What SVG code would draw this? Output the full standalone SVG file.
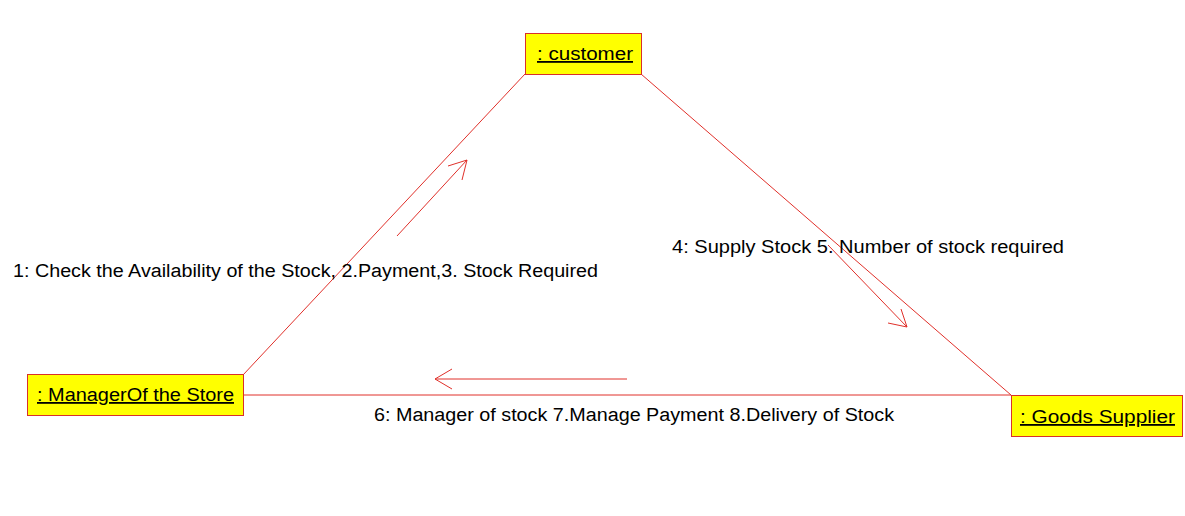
<svg xmlns="http://www.w3.org/2000/svg" width="1185" height="516" viewBox="0 0 1185 516">
<style>
.box{fill:#FFFF00;stroke:#D8302A;stroke-width:1}
.nt{font-family:"Liberation Sans",Arial,sans-serif;font-size:18px;fill:#000;text-decoration:underline}
.lbl{font-family:"Liberation Sans",Arial,sans-serif;font-size:18px;fill:#000}
.ln{stroke:#E0302A;stroke-width:1;fill:none}
</style>
<rect width="1185" height="516" fill="#fff"/>
<g id="connectors">
<line class="ln" x1="525" y1="74" x2="243" y2="375"/>
<line class="ln" x1="641" y1="74" x2="1011" y2="395"/>
<line class="ln" x1="243" y1="395" x2="1011" y2="395"/>
<path class="ln" d="M397,236 L467,160 M448,166 L467,160 L462,180"/>
<path class="ln" d="M828,245 L907,327 M888,323 L907,327 L901,309"/>
<path class="ln" d="M627,379 L435,379 M452,369 L435,379 L452,389"/>
<text class="lbl" x="13" y="277" textLength="585" lengthAdjust="spacingAndGlyphs">1: Check the Availability of the Stock, 2.Payment,3. Stock Required</text>
<text class="lbl" x="672" y="253" textLength="392" lengthAdjust="spacingAndGlyphs">4: Supply Stock 5. Number of stock required</text>
<text class="lbl" x="374" y="421" textLength="520" lengthAdjust="spacingAndGlyphs">6: Manager of stock 7.Manage Payment 8.Delivery of Stock</text>
</g>
<g id="customer">
<rect class="box" x="525.5" y="33.5" width="116" height="41"/>
<text class="nt" x="537" y="60" textLength="96" lengthAdjust="spacingAndGlyphs">: customer</text>
</g>
<g id="manager">
<rect class="box" x="27.5" y="374.5" width="216" height="41"/>
<text class="nt" x="37" y="401" textLength="197" lengthAdjust="spacingAndGlyphs">: ManagerOf the Store</text>
</g>
<g id="supplier">
<rect class="box" x="1011.5" y="395.5" width="171" height="41"/>
<text class="nt" x="1020" y="423" textLength="155" lengthAdjust="spacingAndGlyphs">: Goods Supplier</text>
</g>
</svg>
